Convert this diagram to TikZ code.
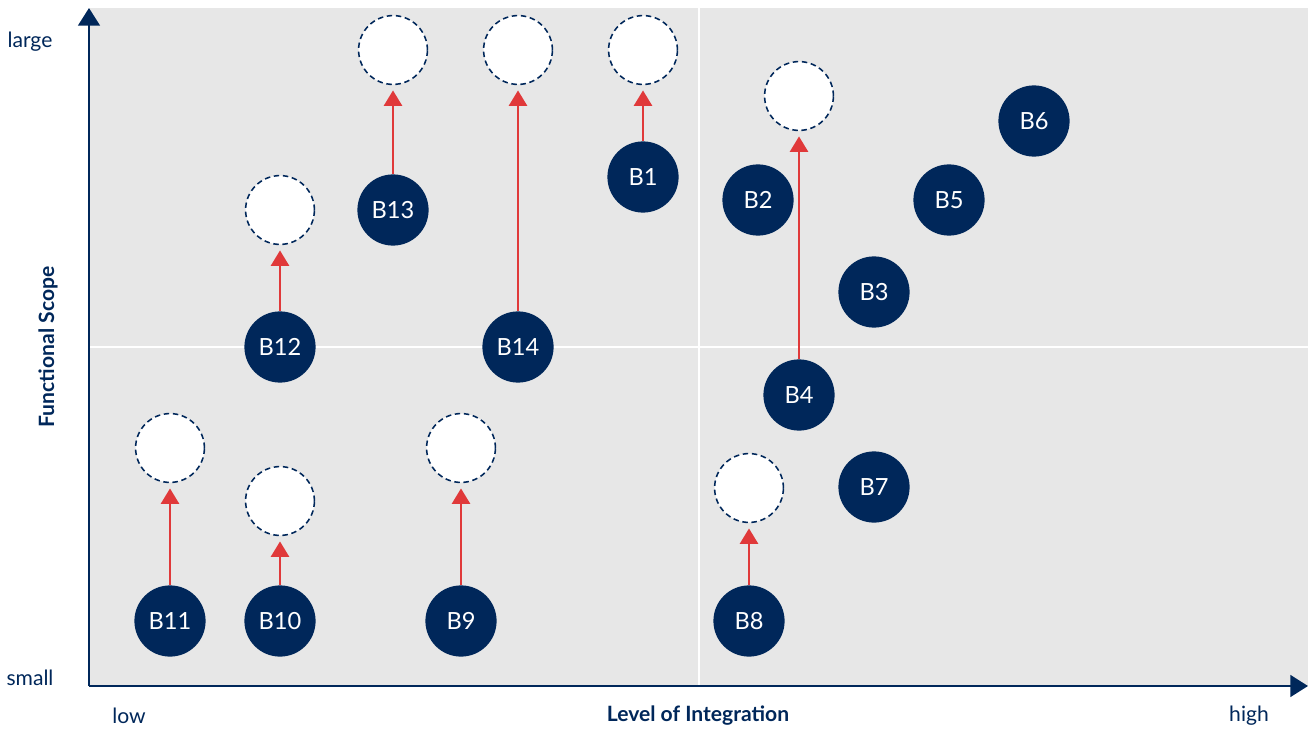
\documentclass[tikz,border=0pt]{standalone}
\usepackage{fontspec}
\setmainfont{Lato}
\usepackage{tikz}
\usetikzlibrary{arrows.meta}

\definecolor{navy}{HTML}{00275A}
\definecolor{pad}{HTML}{E7E7E7}
\definecolor{redline}{HTML}{E0393A}

\begin{document}
\begin{tikzpicture}[x=0.025cm, y=-0.025cm,
    font=\fontsize{15}{18}\selectfont,
    bubble/.style={circle, fill=navy, text=white, minimum size=1.78cm, inner sep=0pt, font=\fontsize{16.8}{19}\selectfont},
    target/.style={circle, draw=navy, fill=white, line width=1.1pt, dash pattern=on 3.9pt off 2.6pt, minimum size=1.72cm, inner sep=0pt},
    growth/.style={draw=redline, line width=2.1pt, -{Triangle[length=0.39cm, width=0.45cm]}, shorten >=0.13cm},
    axis/.style={draw=navy, line width=1.8pt, -{Triangle[length=0.44cm, width=0.54cm]}},
    lbl/.style={text=navy, inner sep=0pt}]
        \useasboundingbox (0,0) rectangle (1308,729);

        \coordinate (o) at (89,686);
        \coordinate (ytop) at (89,8);
        \coordinate (xend) at (1308,686);

        % quadrant background
        \fill[pad] (90,8) rectangle (1308,686);
        \draw[white, line width=1.1pt] (699,8) -- (699,686);
        \draw[white, line width=1.1pt] (90,347) -- (1308,347);

        \draw[axis] (o) -- (ytop);
        \draw[axis] (o) -- (xend);

        \node[lbl] (large) at (30,42) {large};
        \node[lbl] (small) at (30,678) {small};
        \node[lbl] (low) at (129,716) {low};
        \node[lbl] (high) at (1249,716) {high};
        \node[lbl, font=\fontsize{15}{18}\selectfont\bfseries] (xtitle) at (698,716) {Level of Integration};
        \node[lbl, font=\fontsize{15}{18}\selectfont\bfseries, rotate=90] (ytitle) at (48,347) {Functional Scope};

        % future positions
        \node[target] (n1) at (643,50) {};
        \node[target] (n4) at (799,96) {};
        \node[target] (n8) at (749,488) {};
        \node[target] (n9) at (461,448) {};
        \node[target] (n10) at (280,501) {};
        \node[target] (n11) at (170,448) {};
        \node[target] (n12) at (280,210) {};
        \node[target] (n13) at (393,50) {};
        \node[target] (n14) at (518,50) {};

        % current positions
        \node[bubble] (b1) at (643,177) {B1};
        \node[bubble] (b2) at (758,200) {B2};
        \node[bubble] (b3) at (874,292) {B3};
        \node[bubble] (b4) at (799,395) {B4};
        \node[bubble] (b5) at (949,200) {B5};
        \node[bubble] (b6) at (1034,121) {B6};
        \node[bubble] (b7) at (874,487) {B7};
        \node[bubble] (b8) at (749,621) {B8};
        \node[bubble] (b9) at (461,621) {B9};
        \node[bubble] (b10) at (280,621) {B10};
        \node[bubble] (b11) at (170,621) {B11};
        \node[bubble] (b12) at (280,347) {B12};
        \node[bubble] (b13) at (393,210) {B13};
        \node[bubble] (b14) at (518,347) {B14};

        \draw[growth] (b1) -- (n1);
        \draw[growth] (b4) -- (n4);
        \draw[growth] (b8) -- (n8);
        \draw[growth] (b9) -- (n9);
        \draw[growth] (b10) -- (n10);
        \draw[growth] (b11) -- (n11);
        \draw[growth] (b12) -- (n12);
        \draw[growth] (b13) -- (n13);
        \draw[growth] (b14) -- (n14);
    \end{tikzpicture}
\end{document}
